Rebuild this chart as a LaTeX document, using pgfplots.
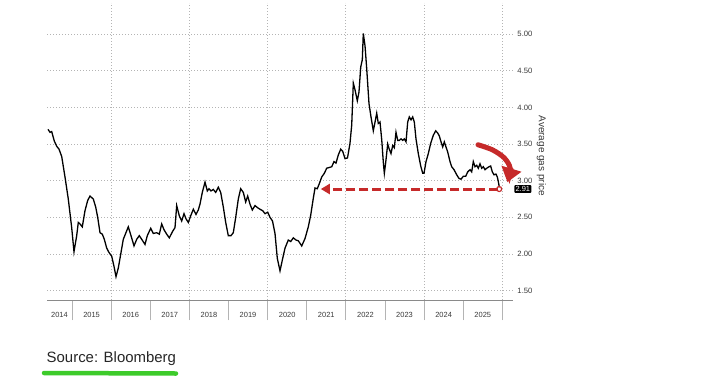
\documentclass[border=0pt]{standalone}
\usepackage{pgfplots}
\pgfplotsset{compat=1.18}
\usepackage{fontspec}
\setmainfont{Liberation Sans}
\usetikzlibrary{arrows.meta}
\definecolor{gridc}{HTML}{B4B4B4}
\definecolor{axc}{HTML}{8A8A8A}
\definecolor{txt}{HTML}{3A3A3A}
\definecolor{ann}{HTML}{C62A2A}
\definecolor{grn}{HTML}{3DCB2A}
\begin{document}
\begin{tikzpicture}[x=1bp,y=1bp]
\useasboundingbox (0,0) rectangle (728,380);
\fill[white] (0,0) rectangle (728,380);
\begin{axis}[
  at={(47bp,80bp)}, anchor=south west,
  scale only axis, width=466bp, height=297bp,
  xmin=2014.361, xmax=2026.273, ymin=1.372, ymax=5.424,
  clip=false,
  axis x line*=bottom, axis y line*=right,
  y axis line style={draw=none},
  x axis line style={axc, line width=0.8bp, -},
  xtick={2015,2016,2017,2018,2019,2020,2021,2022,2023,2024,2025,2026},
  xticklabels={},
  tick align=outside,
  xtick style={gridc, line width=0.8bp},
  major tick length=20bp,
  minor xtick={2016,2018,2020,2022,2024,2026},
  xminorgrids, minor tick length=0pt,
  minor x grid style={gridc, dash pattern=on 1bp off 2bp, line width=0.7bp},
  extra x ticks={2014.68,2015.5,2016.5,2017.5,2018.5,2019.5,2020.5,2021.5,2022.5,2023.5,2024.5,2025.5},
  extra x tick labels={2014,2015,2016,2017,2018,2019,2020,2021,2022,2023,2024,2025},
  extra x tick style={major tick length=0pt, grid=none, xticklabel style={yshift=-9bp}},
  xticklabel style={font=\fontsize{7.5}{8}\selectfont, text=txt},
  ytick={1.5,2,2.5,3,3.5,4,4.5,5},
  ymajorgrids,
  major y grid style={gridc, dash pattern=on 1bp off 2bp, line width=0.7bp},
  ytick style={draw=none},
  yticklabel style={xshift=-19bp, font=\fontsize{7.7}{8}\selectfont, text=txt, /pgf/number format/.cd, fixed, fixed zerofill, precision=2},
  /pgf/number format/assume math mode=true,
]
\addplot[black, line width=1.3bp] coordinates {
(2014.387,3.70) (2014.438,3.66) (2014.481,3.67) (2014.548,3.54) (2014.609,3.47) (2014.668,3.43)
(2014.737,3.33) (2014.821,3.05) (2014.905,2.75) (2014.992,2.36) (2015.051,2.03) (2015.120,2.25)
(2015.161,2.43) (2015.204,2.41) (2015.263,2.37) (2015.332,2.59) (2015.401,2.73) (2015.460,2.79)
(2015.544,2.75) (2015.606,2.64) (2015.657,2.50) (2015.716,2.29) (2015.775,2.27) (2015.826,2.20)
(2015.887,2.08) (2015.946,2.02) (2016.015,1.97) (2016.074,1.83) (2016.125,1.69) (2016.184,1.81)
(2016.253,2.02) (2016.311,2.20) (2016.439,2.37) (2016.508,2.25) (2016.585,2.11) (2016.654,2.20)
(2016.720,2.25) (2016.782,2.20) (2016.866,2.13) (2016.925,2.25) (2017.012,2.35) (2017.078,2.28)
(2017.165,2.29) (2017.232,2.27) (2017.293,2.41) (2017.352,2.33) (2017.421,2.27) (2017.487,2.22)
(2017.574,2.31) (2017.633,2.36) (2017.676,2.66) (2017.743,2.52) (2017.804,2.45) (2017.863,2.55)
(2017.914,2.48) (2017.973,2.43) (2018.034,2.52) (2018.101,2.61) (2018.170,2.54) (2018.228,2.60)
(2018.272,2.68) (2018.331,2.84) (2018.400,2.98) (2018.459,2.86) (2018.502,2.89) (2018.553,2.86)
(2018.612,2.88) (2018.673,2.84) (2018.740,2.91) (2018.801,2.84) (2018.868,2.64) (2018.929,2.43)
(2018.995,2.25) (2019.064,2.25) (2019.123,2.29) (2019.185,2.50) (2019.251,2.75) (2019.312,2.89)
(2019.379,2.84) (2019.440,2.71) (2019.491,2.79) (2019.550,2.68) (2019.609,2.60) (2019.678,2.66)
(2019.747,2.63) (2019.806,2.61) (2019.875,2.59) (2019.934,2.55) (2020.003,2.57) (2020.061,2.50)
(2020.125,2.45) (2020.189,2.28) (2020.248,1.94) (2020.317,1.77) (2020.386,1.94) (2020.445,2.08)
(2020.529,2.19) (2020.591,2.17) (2020.657,2.22) (2020.726,2.19) (2020.785,2.18) (2020.872,2.11)
(2020.956,2.21) (2021.040,2.37) (2021.102,2.53) (2021.168,2.76) (2021.212,2.90) (2021.270,2.89)
(2021.322,2.96) (2021.383,3.05) (2021.449,3.10) (2021.511,3.17) (2021.577,3.18) (2021.639,3.19)
(2021.697,3.26) (2021.748,3.24) (2021.807,3.35) (2021.869,3.43) (2021.920,3.40) (2021.979,3.30)
(2022.042,3.31) (2022.106,3.51) (2022.150,3.76) (2022.191,4.33) (2022.234,4.24) (2022.293,4.09)
(2022.336,4.21) (2022.380,4.55) (2022.421,4.65) (2022.446,5.01) (2022.490,4.84) (2022.533,4.53)
(2022.592,4.05) (2022.643,3.87) (2022.702,3.68) (2022.746,3.80) (2022.789,3.92) (2022.830,3.78)
(2022.873,3.80) (2022.917,3.56) (2022.958,3.25) (2022.984,3.10) (2023.019,3.25) (2023.070,3.50)
(2023.103,3.44) (2023.154,3.37) (2023.198,3.48) (2023.239,3.45) (2023.282,3.66) (2023.326,3.55)
(2023.367,3.55) (2023.410,3.57) (2023.453,3.55) (2023.494,3.57) (2023.538,3.53) (2023.581,3.80)
(2023.622,3.87) (2023.666,3.83) (2023.709,3.87) (2023.750,3.80) (2023.793,3.57) (2023.852,3.37)
(2023.914,3.20) (2023.965,3.10) (2023.998,3.10) (2024.049,3.26) (2024.108,3.37) (2024.169,3.51)
(2024.236,3.62) (2024.297,3.68) (2024.348,3.65) (2024.389,3.61) (2024.433,3.53) (2024.476,3.46)
(2024.517,3.53) (2024.560,3.46) (2024.604,3.39) (2024.663,3.26) (2024.706,3.19) (2024.765,3.15)
(2024.834,3.08) (2024.893,3.03) (2024.944,3.02) (2025.003,3.06) (2025.064,3.06) (2025.115,3.12)
(2025.174,3.15) (2025.217,3.12) (2025.258,3.26) (2025.302,3.19) (2025.345,3.21) (2025.386,3.17)
(2025.429,3.23) (2025.473,3.17) (2025.514,3.19) (2025.557,3.15) (2025.601,3.17) (2025.660,3.19)
(2025.702,3.20) (2025.744,3.12) (2025.787,3.08) (2025.838,3.09) (2025.872,3.05) (2025.897,2.99)
(2025.923,2.91)
};
\addplot[ann, line width=3bp, dash pattern=on 9bp off 4bp, -{Triangle[length=9bp,width=10bp]}] coordinates {(2025.90,2.886) (2021.36,2.886)};
\addplot[ann, only marks, mark=o, mark size=2.5bp, line width=1.2bp] coordinates {(2025.92,2.886)};
\addplot[ann, line width=5bp, smooth, line cap=round, -{Triangle[length=14bp,width=20bp]}] coordinates {(2025.378,3.49) (2025.75,3.42) (2026.05,3.31) (2026.2,3.17) (2026.13,2.98)};
\node[fill=black, text=white, font=\fontsize{7.5}{8}\selectfont, inner sep=1.3bp, rounded corners=1bp, anchor=west] at (axis cs:2026.3,2.886) {2.91};
\node[rotate=-90, font=\fontsize{10}{12}\selectfont, text=txt] at (axis cs:2027.0,3.34) {Average gas price};
\end{axis}
\node[anchor=base west, inner sep=0pt, font=\fontsize{15}{18}\selectfont, text=black!85] at (46.5,18) {Source: Bloomberg};
\draw[grn, line width=4.5bp, line cap=round] (44,7) -- (176,6.5);
\end{tikzpicture}
\end{document}
